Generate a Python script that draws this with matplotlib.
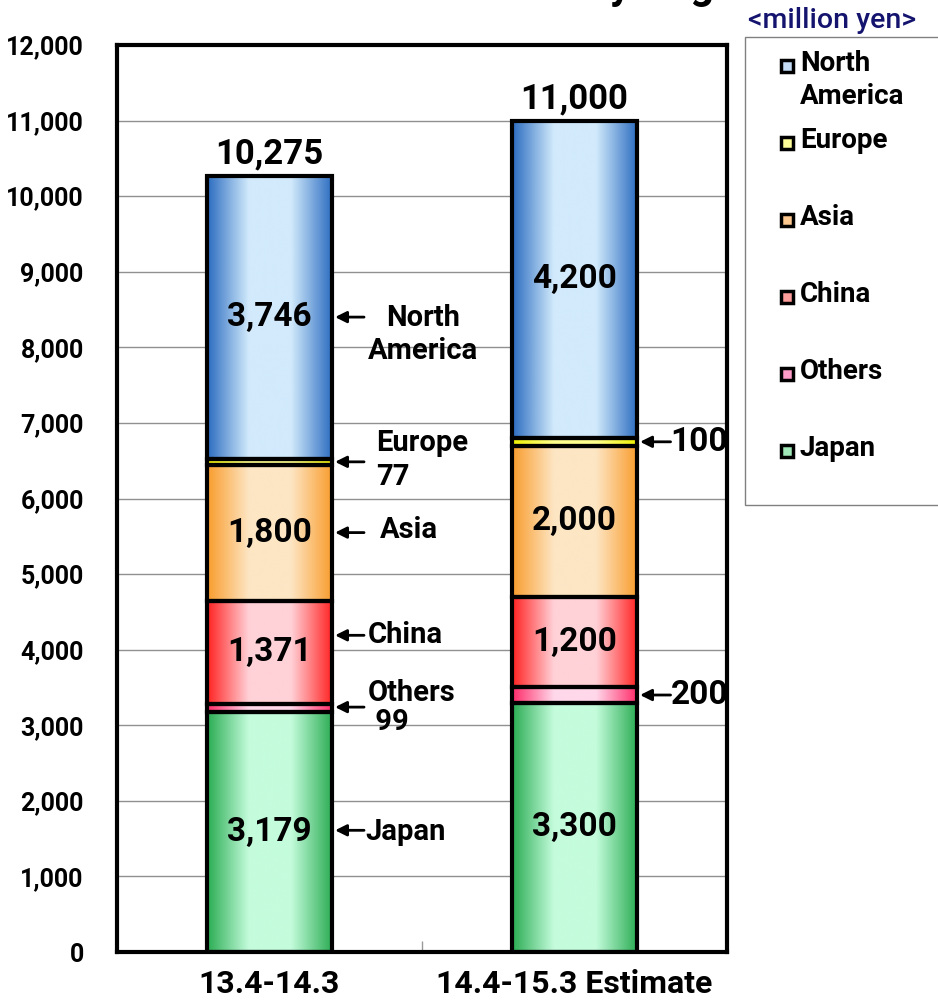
import numpy as np
import matplotlib
matplotlib.use("Agg")
import matplotlib.pyplot as plt
from matplotlib.colors import LinearSegmentedColormap
from matplotlib.patches import Rectangle
from matplotlib.ticker import FuncFormatter

plt.rcParams['font.family'] = ['Roboto', 'DejaVu Sans']
plt.rcParams['font.weight'] = 'bold'

# data (million yen), stacked bottom to top
periods = ["13.4-14.3", "14.4-15.3 Estimate"]
regions = ["Japan", "Others", "China", "Asia", "Europe", "North America"]
sales_1314 = [3179, 99, 1371, 1800, 77, 3746]
sales_1415 = [3300, 200, 1200, 2000, 100, 4200]
totals = [10275, 11000]

# gradient colours per region: (edge, centre)
grad_cols = {
    "Japan": ("#2aac52", "#c4fcdc"),
    "Others": ("#ff2a68", "#ffd8ea"),
    "China": ("#ff2222", "#ffd2d8"),
    "Asia": ("#f99c2c", "#fde6c4"),
    "Europe": ("#f0f000", "#ffff90"),
    "North America": ("#2a6cc0", "#d2eafc"),
}
legend_cols = {
    "North America": "#c4dcf6",
    "Europe": "#ffff9a",
    "Asia": "#fcc890",
    "China": "#ff9c9c",
    "Others": "#ff9cc8",
    "Japan": "#a0e8b8",
}

# value labels drawn inside the bars (small segments are labelled outside)
inside = {"Japan", "China", "Asia", "North America"}

# callouts for the first bar: (label text, arrow y, text x, text y, ha)
callouts_left = [
    ("North\nAmerica", 8400, 0.503, 8170, "center"),
    ("Europe\n77", 6485, 0.349, 6510, "left"),
    ("Asia", 5549, 0.362, 5580, "left"),
    ("China", 4190, 0.323, 4195, "left"),
    ("Others\n 99", 3240, 0.323, 3240, "left"),
    ("Japan", 1610, 0.313, 1590, "left"),
]
# callouts for the second bar
callouts_right = [
    ("100", 6750, 1.315, 6750),
    ("200", 3400, 1.315, 3400),
]

W, H = 938, 1001
fig = plt.figure(figsize=(W / 100, H / 100), dpi=100)
ax = fig.add_axes([117 / W, 1 - 952 / H, 610 / W, 907 / H])

x = np.arange(len(periods))
bw = 0.41
grad = np.linspace(0, 1, 256).reshape(1, -1)

bottoms = np.zeros(len(periods))
for i, reg in enumerate(regions):
    vals = np.array([sales_1314[i], sales_1415[i]])
    bars = ax.bar(x, vals, bw, bottom=bottoms, facecolor="none",
                  edgecolor="black", linewidth=3, zorder=3)
    edge, centre = grad_cols[reg]
    cmap = LinearSegmentedColormap.from_list(reg, [edge, centre, centre, edge])
    for b, v in zip(bars, vals):
        ax.imshow(grad, extent=[b.get_x(), b.get_x() + b.get_width(),
                                b.get_y(), b.get_y() + b.get_height()],
                  aspect="auto", cmap=cmap, zorder=2, interpolation="bicubic")
        if reg in inside:
            ax.text(b.get_x() + b.get_width() / 2, b.get_y() + v / 2,
                    f"{v:,}", ha="center", va="center", fontsize=24,
                    fontweight="bold", zorder=4)
    bottoms += vals

for xi, t in zip(x, totals):
    ax.annotate(f"{t:,}", (xi, bottoms[xi]), xytext=(0, 4),
                textcoords="offset points", ha="center", va="bottom",
                fontsize=25, fontweight="bold")

arrow_kw = dict(arrowstyle="-|>", color="black", lw=2, mutation_scale=17,
                shrinkA=0, shrinkB=0)
right_edge = bw / 2
for txt, ya, tx, ty, ha in callouts_left:
    ax.annotate("", xy=(right_edge + 0.01, ya), xytext=(0.31, ya),
                arrowprops=arrow_kw, zorder=5)
    ax.text(tx, ty, txt, ha=ha, va="center", fontsize=21,
            fontweight="bold", linespacing=1.05 if txt.startswith("Others") else 1.25)
for txt, ya, tx, ty in callouts_right:
    ax.annotate("", xy=(1 + right_edge + 0.01, ya), xytext=(1.315, ya),
                arrowprops=arrow_kw, zorder=5)
    ax.text(tx, ty, txt, ha="left", va="center", fontsize=24,
            fontweight="bold")

ax.set_xlim(-0.5, 1.5)
ax.set_ylim(0, 12000)
ax.set_yticks(np.arange(0, 12001, 1000))
ax.yaxis.set_major_formatter(FuncFormatter(lambda v, p: f"{int(v):,}"))
ax.grid(axis="y", color="#909090", lw=1, zorder=0)
ax.set_axisbelow(True)
ax.set_xticks(x)
ax.set_xticklabels(periods, fontsize=23, fontweight="bold")
ax.set_xticks([0.5], minor=True)
ax.tick_params(axis="x", which="major", length=0, pad=12)
ax.tick_params(axis="x", which="minor", direction="in", length=8,
               color="#999999", width=1)
ax.tick_params(axis="y", length=0, pad=24, labelsize=18)
for lab in ax.get_yticklabels():
    lab.set_fontweight("bold")
for s in ax.spines.values():
    s.set_linewidth(3)

# title sits just above the canvas, only its descenders show
fig.text(0.53, 1.0 + 2 / H, "Net Sales Forecast by Region", ha="center",
         va="baseline", fontsize=30, fontweight="bold")

fig.text(748 / W, 1 - 20 / H, "<million yen>", ha="left", va="center",
         fontsize=20.5, color="#14146e", fontweight="medium")

# legend box
fig.add_artist(Rectangle((745 / W, 1 - 505 / H), 200 / W, 468 / H,
                         transform=fig.transFigure, facecolor="white",
                         edgecolor="#808080", lw=1))
legend_order = ["North America", "Europe", "Asia", "China", "Others", "Japan"]
for i, reg in enumerate(legend_order):
    yc = 66 + 77 * i
    fig.add_artist(Rectangle((781 / W, 1 - (yc + 6) / H), 12 / W, 12 / H,
                             transform=fig.transFigure,
                             facecolor=legend_cols[reg], edgecolor="black",
                             lw=2.5))
    label = "North\nAmerica" if reg == "North America" else reg
    fig.text(800 / W, 1 - (yc - 16) / H, label, ha="left", va="top",
             fontsize=20, fontweight="bold", linespacing=1.3)

fig.savefig("out.png", dpi=100)
